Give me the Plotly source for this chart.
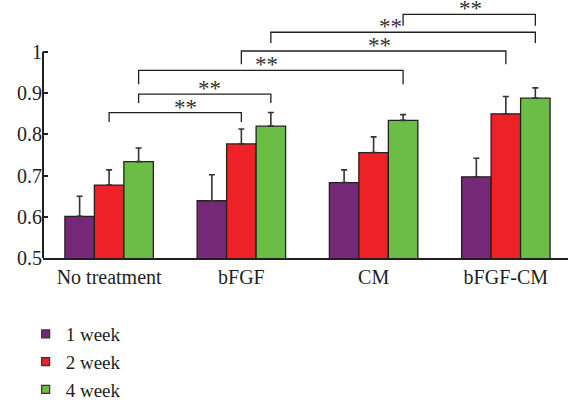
import plotly.graph_objects as go

categories = ["No treatment", "bFGF", "CM", "bFGF-CM"]
series_names = ["1 week", "2 week", "4 week"]
week1 = [0.601, 0.639, 0.683, 0.697]
week2 = [0.677, 0.777, 0.756, 0.850]
week4 = [0.734, 0.820, 0.834, 0.888]
week1_err = [0.049, 0.063, 0.031, 0.045]
week2_err = [0.037, 0.036, 0.038, 0.042]
week4_err = [0.033, 0.033, 0.014, 0.025]
y_ticks = [0.5, 0.6, 0.7, 0.8, 0.9, 1.0]
y_tick_labels = ["0.5", "0.6", "0.7", "0.8", "0.9", "1"]

# significance brackets: (group_a, series_a, group_b, series_b, line level, drop end, label x, label)
brackets = [
    (0, 1, 1, 1, 0.853, 0.830, 0.578, "**"),
    (0, 2, 1, 2, 0.898, 0.876, 0.756, "**"),
    (0, 2, 2, 2, 0.9555, 0.922, 1.187, "**"),
    (1, 1, 3, 1, 1.0024, 0.970, 2.045, "**"),
    (1, 2, 3, 2, 1.048, 1.022, 2.131, "**"),
    (2, 2, 3, 2, 1.0915, 1.064, 2.729, "**"),
]

colors = ["#762878", "#EC2227", "#6BBD45"]
values = [week1, week2, week4]
errors = [week1_err, week2_err, week4_err]

FONT = "Liberation Serif"
INK = "#231F20"

bargap = 0.331
bar_w = (1 - bargap) / 3
offsets = [-bar_w, 0.0, bar_w]

fig = go.Figure()
for name, vals, errs, col in zip(series_names, values, errors, colors):
    fig.add_trace(go.Bar(
        x=list(range(len(categories))), y=vals, name=name,
        marker=dict(color=col, line=dict(color="#222222", width=1.3)),
        error_y=dict(type="data", array=errs, arrayminus=[0] * len(errs),
                     symmetric=False, thickness=1.6, width=3, color="#333333"),
        showlegend=False,
    ))
# legend entries with small square symbols
for name, col in zip(series_names, colors):
    fig.add_trace(go.Scatter(
        x=[None], y=[None], mode="markers", name=name,
        marker=dict(symbol="square", size=8, color=col,
                    line=dict(color="#333333", width=1.2)),
    ))

shapes = []
annotations = []
for ga, sa, gb, sb, top, bot, lx, lab in brackets:
    xa = ga + offsets[sa]
    xb = gb + offsets[sb]
    shapes.append(dict(
        type="path", xref="x", yref="y",
        path=f"M {xa},{bot} L {xa},{top} L {xb},{top} L {xb},{bot}",
        line=dict(color=INK, width=1.3),
    ))
    annotations.append(dict(
        x=lx, y=top, xref="x", yref="y", text=lab, showarrow=False,
        yanchor="bottom", yshift=-9,
        font=dict(family=FONT, size=23, color="#333333"),
    ))
# y axis line only up to 1
shapes.append(dict(type="line", xref="paper", yref="y", x0=0, x1=0,
                   y0=y_ticks[0], y1=y_ticks[-1],
                   line=dict(color=INK, width=2)))

fig.update_layout(
    width=568, height=400,
    margin=dict(l=43, r=0, t=2, b=142, autoexpand=False),
    paper_bgcolor="white", plot_bgcolor="white",
    barmode="group", bargap=bargap, bargroupgap=0,
    font=dict(family=FONT, size=20, color=INK),
    shapes=shapes, annotations=annotations,
    showlegend=True,
    legend=dict(x=-0.033, y=-0.223, xanchor="left", yanchor="top",
                font=dict(family=FONT, size=19, color=INK),
                bgcolor="rgba(0,0,0,0)", tracegroupgap=0),
)
fig.update_xaxes(
    range=[-0.5, 3.47], tickmode="array",
    tickvals=list(range(len(categories))), ticktext=categories,
    showline=True, linecolor=INK, linewidth=2, ticks="",
    showgrid=False, zeroline=False, automargin=False,
    tickfont=dict(family=FONT, size=20, color=INK),
)
fig.update_yaxes(
    range=[0.5, 1.1214], tickmode="array", tickvals=y_ticks,
    ticktext=y_tick_labels, ticks="inside", ticklen=5, tickwidth=2,
    tickcolor=INK, showline=False, showgrid=False, zeroline=False,
    automargin=False,
    tickfont=dict(family=FONT, size=20, color=INK),
)

fig.write_html("out.html",
               config={"displayModeBar": False},
               post_script="document.body.style.margin='0';"
                           "document.body.style.overflow='hidden';")
